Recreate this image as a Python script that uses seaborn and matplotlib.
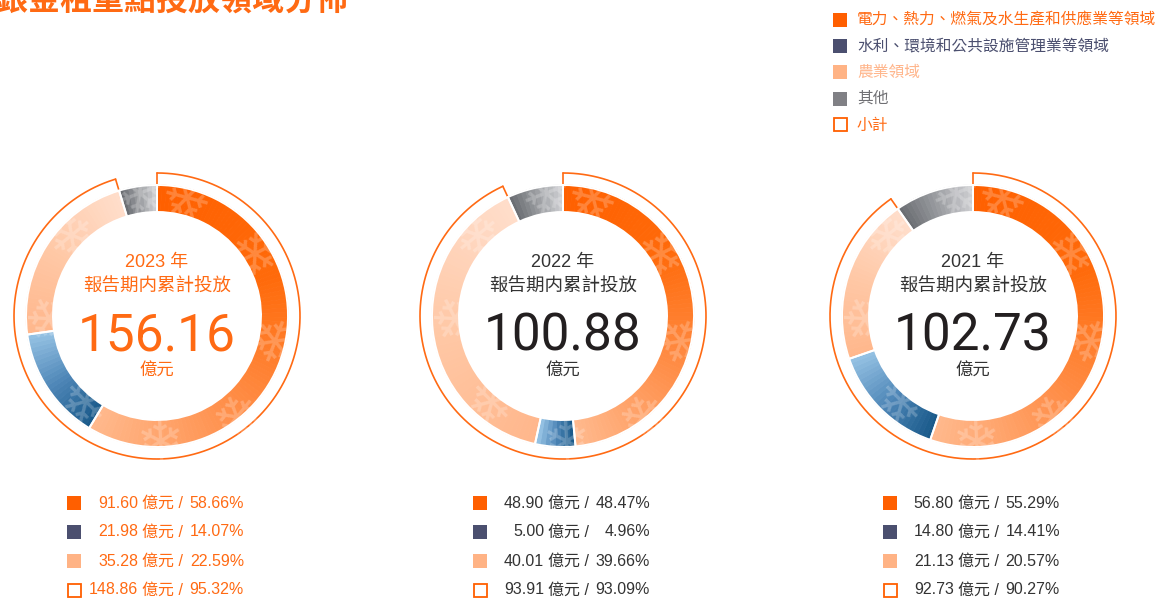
import numpy as np
import matplotlib
matplotlib.use("Agg")
import matplotlib.pyplot as plt
import seaborn as sns
from matplotlib.patches import Rectangle

# values (億元 / %)
years = ["2023", "2022", "2021"]
totals = [156.16, 100.88, 102.73]
power = [91.60, 48.90, 56.80]
power_pct = [58.66, 48.47, 55.29]
water = [21.98, 5.00, 14.80]
water_pct = [14.07, 4.96, 14.41]
agri = [35.28, 40.01, 21.13]
agri_pct = [22.59, 39.66, 20.57]
subtotal = [148.86, 93.91, 92.73]
subtotal_pct = [95.32, 93.09, 90.27]

legend_labels = ["電力、熱力、燃氣及水生產和供應業等領域", "水利、環境和公共設施管理業等領域",
                 "農業領域", "其他", "小計"]

sns.set_theme(style="white")
plt.rcParams["font.family"] = ["Noto Sans CJK TC", "DejaVu Sans"]
NUM_FONT = ["Liberation Sans", "Noto Sans CJK TC"]

W, H = 1161, 598
ORANGE = "#FF6A13"
DARK = "#333333"

# gradient stops per segment (start of arc -> end of arc)
grads = [["#FF6000", "#FF6A0A", "#FF8E48", "#FFB88C"],
         ["#1A5A8A", "#4F87B8", "#93C0E2"],
         ["#FFB78C", "#FFC8A6", "#FFDDCA"],
         ["#6B6E73", "#9A9CA0", "#CBCCCF"]]
sq_colors = ["#FF5F00", "#4B4F6F", "#FFB385"]
legend_text_colors = [ORANGE, "#4B4F6F", "#FFB68C", "#6F6F73", ORANGE]

fig = plt.figure(figsize=(11.61, 5.98), dpi=100)
ax = fig.add_axes([0, 0, 1, 1])

centers_x = [157, 563, 973]
cy = H - 316
R_OUT, WIDTH, R_RING = 131, 27, 143

for i, yr in enumerate(years):
    cx = centers_x[i]
    vals = [power[i], water[i], agri[i], totals[i] - subtotal[i]]

    # each segment split into thin slices to fake the gradient
    pieces, cols = [], []
    for v, stops in zip(vals, grads):
        n = max(int(v / totals[i] * 180), 3)
        pieces += [v / n] * n
        cols += sns.blend_palette(stops, n)
    wedges, _ = ax.pie(pieces, colors=cols, startangle=90, counterclock=False,
                       radius=R_OUT, center=(cx, cy), wedgeprops=dict(width=WIDTH, linewidth=0))
    for w in wedges:
        w.set_edgecolor(w.get_facecolor())
        w.set_linewidth(0.6)

    # faint snowflake decoration, clipped to the ring
    ring = plt.Circle((cx, cy), R_OUT, transform=ax.transData)
    for a in np.arange(15, 360, 42):
        t = np.deg2rad(a)
        sf = ax.text(cx + (R_OUT - 12) * np.sin(t), cy + (R_OUT - 12) * np.cos(t), "❄",
                     ha="center", va="center", fontsize=42, color="white", alpha=0.22,
                     family=["DejaVu Sans"], rotation=a)
        sf.set_clip_path(ring)
    ax.add_patch(plt.Circle((cx, cy), R_OUT - WIDTH, facecolor="white", edgecolor="none", zorder=2))

    # white separators between the segments
    ax.pie(vals, colors=["none"] * 4, startangle=90, counterclock=False, radius=R_OUT,
           center=(cx, cy), wedgeprops=dict(width=WIDTH, linewidth=1.4, edgecolor="white", zorder=2.5))

    # outer subtotal arc
    th = np.linspace(0, 2 * np.pi * subtotal_pct[i] / 100, 500)
    ax.plot(cx + R_RING * np.sin(th), cy + R_RING * np.cos(th), color=ORANGE, lw=1.2)
    for t in (th[0], th[-1]):
        ax.plot([cx + R_OUT * np.sin(t), cx + R_RING * np.sin(t)],
                [cy + R_OUT * np.cos(t), cy + R_RING * np.cos(t)], color=ORANGE, lw=1.2)

    # centre labels
    tc = ORANGE if i == 0 else DARK
    nc = ORANGE if i == 0 else "#231F20"
    ax.text(cx, H - 263, f"{yr} 年", ha="center", va="center", fontsize=13, color=tc,
            family=NUM_FONT, zorder=3)
    ax.text(cx, H - 287, "報告期内累計投放", ha="center", va="center", fontsize=13.3, color=tc,
            zorder=3)
    ax.text(cx, H - 331, f"{totals[i]:.2f}", ha="center", va="center_baseline", fontsize=37,
            color=nc, family=["Roboto"], zorder=3)
    ax.text(cx, H - 371, "億元", ha="center", va="center", fontsize=12.5, color=tc, zorder=3)

    # figures under each donut
    rows = [(power[i], power_pct[i]), (water[i], water_pct[i]),
            (agri[i], agri_pct[i]), (subtotal[i], subtotal_pct[i])]
    for r, (num, pct) in enumerate(rows):
        y = H - (503 + 29 * r)
        if r < 3:
            ax.add_patch(Rectangle((cx - 90, y - 7), 14, 14, facecolor=sq_colors[r], edgecolor="none"))
        else:
            ax.add_patch(Rectangle((cx - 89.5, y - 6.5), 13, 13, facecolor="white",
                                   edgecolor="#FF5F00", lw=1.3))
        ax.text(cx - 19, y, f"{num:.2f}", ha="right", va="center", fontsize=11.5, color=tc,
                family=NUM_FONT)
        ax.text(cx - 15, y, "億元 /", ha="left", va="center", fontsize=11.5, color=tc,
                family=NUM_FONT)
        ax.text(cx + 87, y, f"{pct:.2f}%", ha="right", va="center", fontsize=11.5, color=tc,
                family=NUM_FONT)

# top-right legend
leg_sq = sq_colors + ["#808085", None]
for k, lab in enumerate(legend_labels):
    y = H - (20 + 26.2 * k)
    if leg_sq[k] is not None:
        ax.add_patch(Rectangle((833, y - 7), 14, 14, facecolor=leg_sq[k], edgecolor="none"))
    else:
        ax.add_patch(Rectangle((833.5, y - 6.5), 13, 13, facecolor="white",
                               edgecolor="#FF5F00", lw=1.3))
    ax.text(857, y, lab, ha="left", va="center", fontsize=11.3, color=legend_text_colors[k])

# title, cut off at the top edge as in the source
ax.text(-35, H - 10, "工銀金租重點投放領域分佈", ha="left", va="baseline", fontsize=23,
        fontweight="bold", color=ORANGE)

ax.set_xlim(0, W)
ax.set_ylim(0, H)
ax.set_aspect("auto")
ax.axis("off")

fig.savefig("out.png", dpi=100)
